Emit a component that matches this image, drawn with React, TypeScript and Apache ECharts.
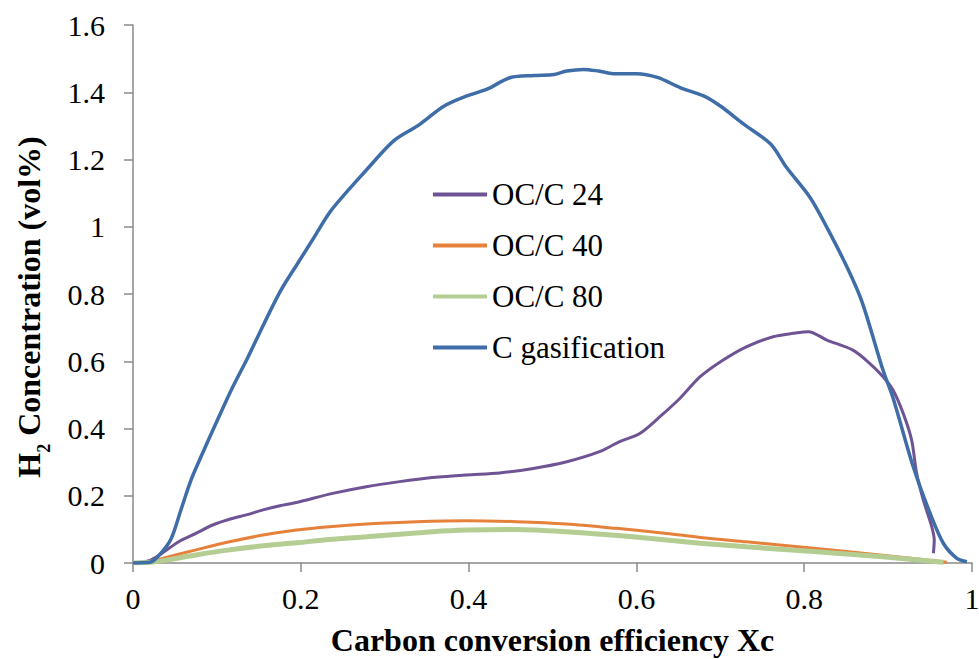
import React, { useEffect, useRef } from "react";
import * as echarts from "echarts";

const FONT = "Liberation Serif";

const seriesNames = ["OC/C 24", "OC/C 40", "OC/C 80", "C gasification"];

const xTicks = [0, 0.2, 0.4, 0.6, 0.8, 1];
const yTicks = [0, 0.2, 0.4, 0.6, 0.8, 1, 1.2, 1.4, 1.6];

const oc24X = [0, 0.02, 0.035, 0.055, 0.075, 0.095, 0.115, 0.135, 0.155, 0.175, 0.195, 0.238, 0.278, 0.318, 0.357, 0.397, 0.437, 0.477, 0.517, 0.556, 0.58, 0.604, 0.628, 0.652, 0.676, 0.703, 0.731, 0.763, 0.787, 0.805, 0.827, 0.858, 0.878, 0.894, 0.906, 0.918, 0.928, 0.934, 0.942, 0.952, 0.955, 0.954];
const oc24Y = [0, 0.008, 0.03, 0.064, 0.088, 0.113, 0.13, 0.143, 0.158, 0.17, 0.18, 0.207, 0.227, 0.242, 0.254, 0.262, 0.268, 0.281, 0.301, 0.331, 0.361, 0.385, 0.435, 0.49, 0.554, 0.603, 0.643, 0.673, 0.683, 0.688, 0.663, 0.633, 0.594, 0.554, 0.514, 0.445, 0.366, 0.267, 0.187, 0.108, 0.068, 0.029];

const oc40X = [0, 0.02, 0.036, 0.075, 0.115, 0.155, 0.195, 0.234, 0.278, 0.338, 0.397, 0.457, 0.517, 0.576, 0.636, 0.676, 0.731, 0.811, 0.89, 0.97];
const oc40Y = [0, 0.004, 0.014, 0.039, 0.063, 0.083, 0.098, 0.108, 0.116, 0.123, 0.126, 0.123, 0.116, 0.103, 0.088, 0.076, 0.063, 0.044, 0.024, 0.002];

const oc80X = [0, 0.02, 0.036, 0.075, 0.115, 0.155, 0.195, 0.234, 0.278, 0.357, 0.397, 0.457, 0.517, 0.596, 0.676, 0.731, 0.811, 0.89, 0.966];
const oc80Y = [0, 0.002, 0.007, 0.024, 0.039, 0.051, 0.06, 0.07, 0.078, 0.093, 0.098, 0.1, 0.093, 0.078, 0.059, 0.048, 0.034, 0.019, 0.002];

const gasX = [0, 0.02, 0.03, 0.045, 0.057, 0.069, 0.081, 0.097, 0.117, 0.137, 0.156, 0.176, 0.196, 0.216, 0.236, 0.279, 0.311, 0.339, 0.371, 0.398, 0.422, 0.45, 0.478, 0.502, 0.517, 0.537, 0.555, 0.575, 0.6, 0.625, 0.652, 0.68, 0.7, 0.728, 0.76, 0.779, 0.807, 0.827, 0.851, 0.869, 0.894, 0.906, 0.93, 0.95, 0.966, 0.982, 0.994];
const gasY = [0, 0.002, 0.02, 0.07, 0.157, 0.246, 0.316, 0.405, 0.514, 0.612, 0.711, 0.81, 0.89, 0.969, 1.048, 1.171, 1.256, 1.3, 1.359, 1.389, 1.409, 1.444, 1.45, 1.453, 1.463, 1.468, 1.463, 1.455, 1.455, 1.444, 1.414, 1.389, 1.359, 1.305, 1.246, 1.176, 1.087, 0.998, 0.88, 0.776, 0.573, 0.49, 0.286, 0.148, 0.058, 0.014, 0.004];

const colors = ["#6E5494", "#E5813A", "#B4CD93", "#3F6DA8"];
const widths = [3, 3, 5, 3.5];

const zip = (xs: number[], ys: number[]) => xs.map((x, i) => [x, ys[i]]);

export default function App() {
  const ref = useRef<HTMLDivElement>(null);
  useEffect(() => {
    if (!ref.current) return;
    const chart = echarts.init(ref.current, undefined, { renderer: "svg" });
    const datasets = [zip(oc24X, oc24Y), zip(oc40X, oc40Y), zip(oc80X, oc80Y), zip(gasX, gasY)];
    const axisColor = "#8A8A8A";
    const tickRich = { t: { fontFamily: FONT, fontSize: 30, color: "#000", lineHeight: 30 } };
    chart.setOption({
      animation: false,
      backgroundColor: "#ffffff",
      textStyle: { fontFamily: FONT },
      grid: { left: 133, top: 25, width: 839, height: 538, containLabel: false, outerBoundsMode: "none" },
      legend: {
        orient: "vertical",
        left: 433,
        top: 179,
        padding: 0,
        itemWidth: 54,
        itemHeight: 4,
        itemGap: 20,
        data: seriesNames.map((n, i) => ({ name: n, icon: "rect", itemStyle: { color: colors[i] } })),
        formatter: "{t|{name}}",
        textStyle: {
          fontFamily: FONT,
          fontSize: 31,
          color: "#000",
          lineHeight: 31,
          rich: { t: { fontFamily: FONT, fontSize: 31, color: "#000", lineHeight: 31 } },
        },
        selectedMode: false,
      },
      xAxis: {
        type: "value",
        min: xTicks[0],
        max: xTicks[xTicks.length - 1],
        interval: 0.2,
        name: "Carbon conversion efficiency Xc",
        nameLocation: "middle",
        nameGap: 61,
        nameTextStyle: { fontFamily: FONT, fontSize: 32, fontWeight: "bold", color: "#000" },
        axisLine: { lineStyle: { color: axisColor, width: 1.5 } },
        axisTick: { show: true, inside: false, length: 9, lineStyle: { color: axisColor, width: 1.5 } },
        axisLabel: { fontFamily: FONT, fontSize: 30, color: "#000", margin: 20, formatter: "{t|{value}}", rich: tickRich },
        splitLine: { show: false },
      },
      yAxis: {
        type: "value",
        min: yTicks[0],
        max: yTicks[yTicks.length - 1],
        interval: 0.2,
        axisLine: { show: true, lineStyle: { color: axisColor, width: 1.5 } },
        axisTick: { show: true, inside: false, length: 9, lineStyle: { color: axisColor, width: 1.5 } },
        axisLabel: { fontFamily: FONT, fontSize: 30, color: "#000", margin: 28, formatter: "{t|{value}}", rich: tickRich },
        splitLine: { show: false },
      },
      graphic: [
        {
          type: "text",
          x: 29,
          y: 307,
          rotation: Math.PI / 2,
          style: {
            text: "{b|H}{s|2}{b| Concentration (vol%)}",
            align: "center",
            verticalAlign: "middle",
            rich: {
              b: { fontFamily: FONT, fontSize: 32, fontWeight: "bold", fill: "#000", lineHeight: 34, verticalAlign: "middle" },
              s: { fontFamily: FONT, fontSize: 18, fontWeight: "bold", fill: "#000", lineHeight: 48, verticalAlign: "bottom" },
            },
          },
        },
      ],
      series: seriesNames.map((n, i) => ({
        name: n,
        type: "line",
        data: datasets[i],
        showSymbol: false,
        symbol: "none",
        smooth: 0.3,
        lineStyle: { color: colors[i], width: widths[i] },
        itemStyle: { color: colors[i] },
      })),
    });
    return () => chart.dispose();
  }, []);
  return <div ref={ref} style={{ width: 979, height: 659, position: "absolute", left: 0, top: 0 }} />;
}
